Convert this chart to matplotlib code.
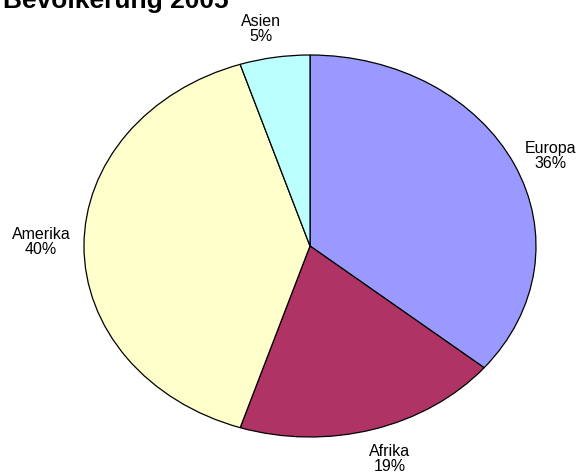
import matplotlib
matplotlib.use('Agg')
import matplotlib.pyplot as plt

regionen = ['Europa', 'Afrika', 'Amerika', 'Asien']
anteile = [36, 19, 40, 5]
farben = ['#9999FF', '#B03366', '#FFFFCC', '#BBFFFF']

plt.rcParams['font.family'] = ['Liberation Sans', 'DejaVu Sans']

fig = plt.figure(figsize=(5.85, 4.75), dpi=100)
ax = fig.add_axes([84/585, (475-437)/475, 452/585, 382/475])

wedges, texte = ax.pie(anteile, colors=farben, startangle=90, counterclock=False,
                       labels=['{}\n{}%'.format(r, a) for r, a in zip(regionen, anteile)],
                       labeldistance=1.15,
                       wedgeprops=dict(edgecolor='black', linewidth=0.9),
                       textprops=dict(fontsize=11.5, ha='center', va='center'))
ax.set_aspect('auto')
ax.set_xlim(-1, 1)
ax.set_ylim(-1, 1)

# Beschriftungen wie im Original platzieren
pos = {'Europa': (1.066, 0.471), 'Afrika': (0.354, -1.115),
       'Amerika': (-1.19, 0.021), 'Asien': (-0.217, 1.136)}
for t, r in zip(texte, regionen):
    t.set_position(pos[r])
    t.set_horizontalalignment('center')
    t.set_linespacing(1.05)

fig.text(3/585, 1 - 8/475, 'Bevölkerung 2005', fontsize=19, fontweight='bold',
         va='baseline', ha='left')

fig.savefig('out.png', dpi=100, facecolor='white')
